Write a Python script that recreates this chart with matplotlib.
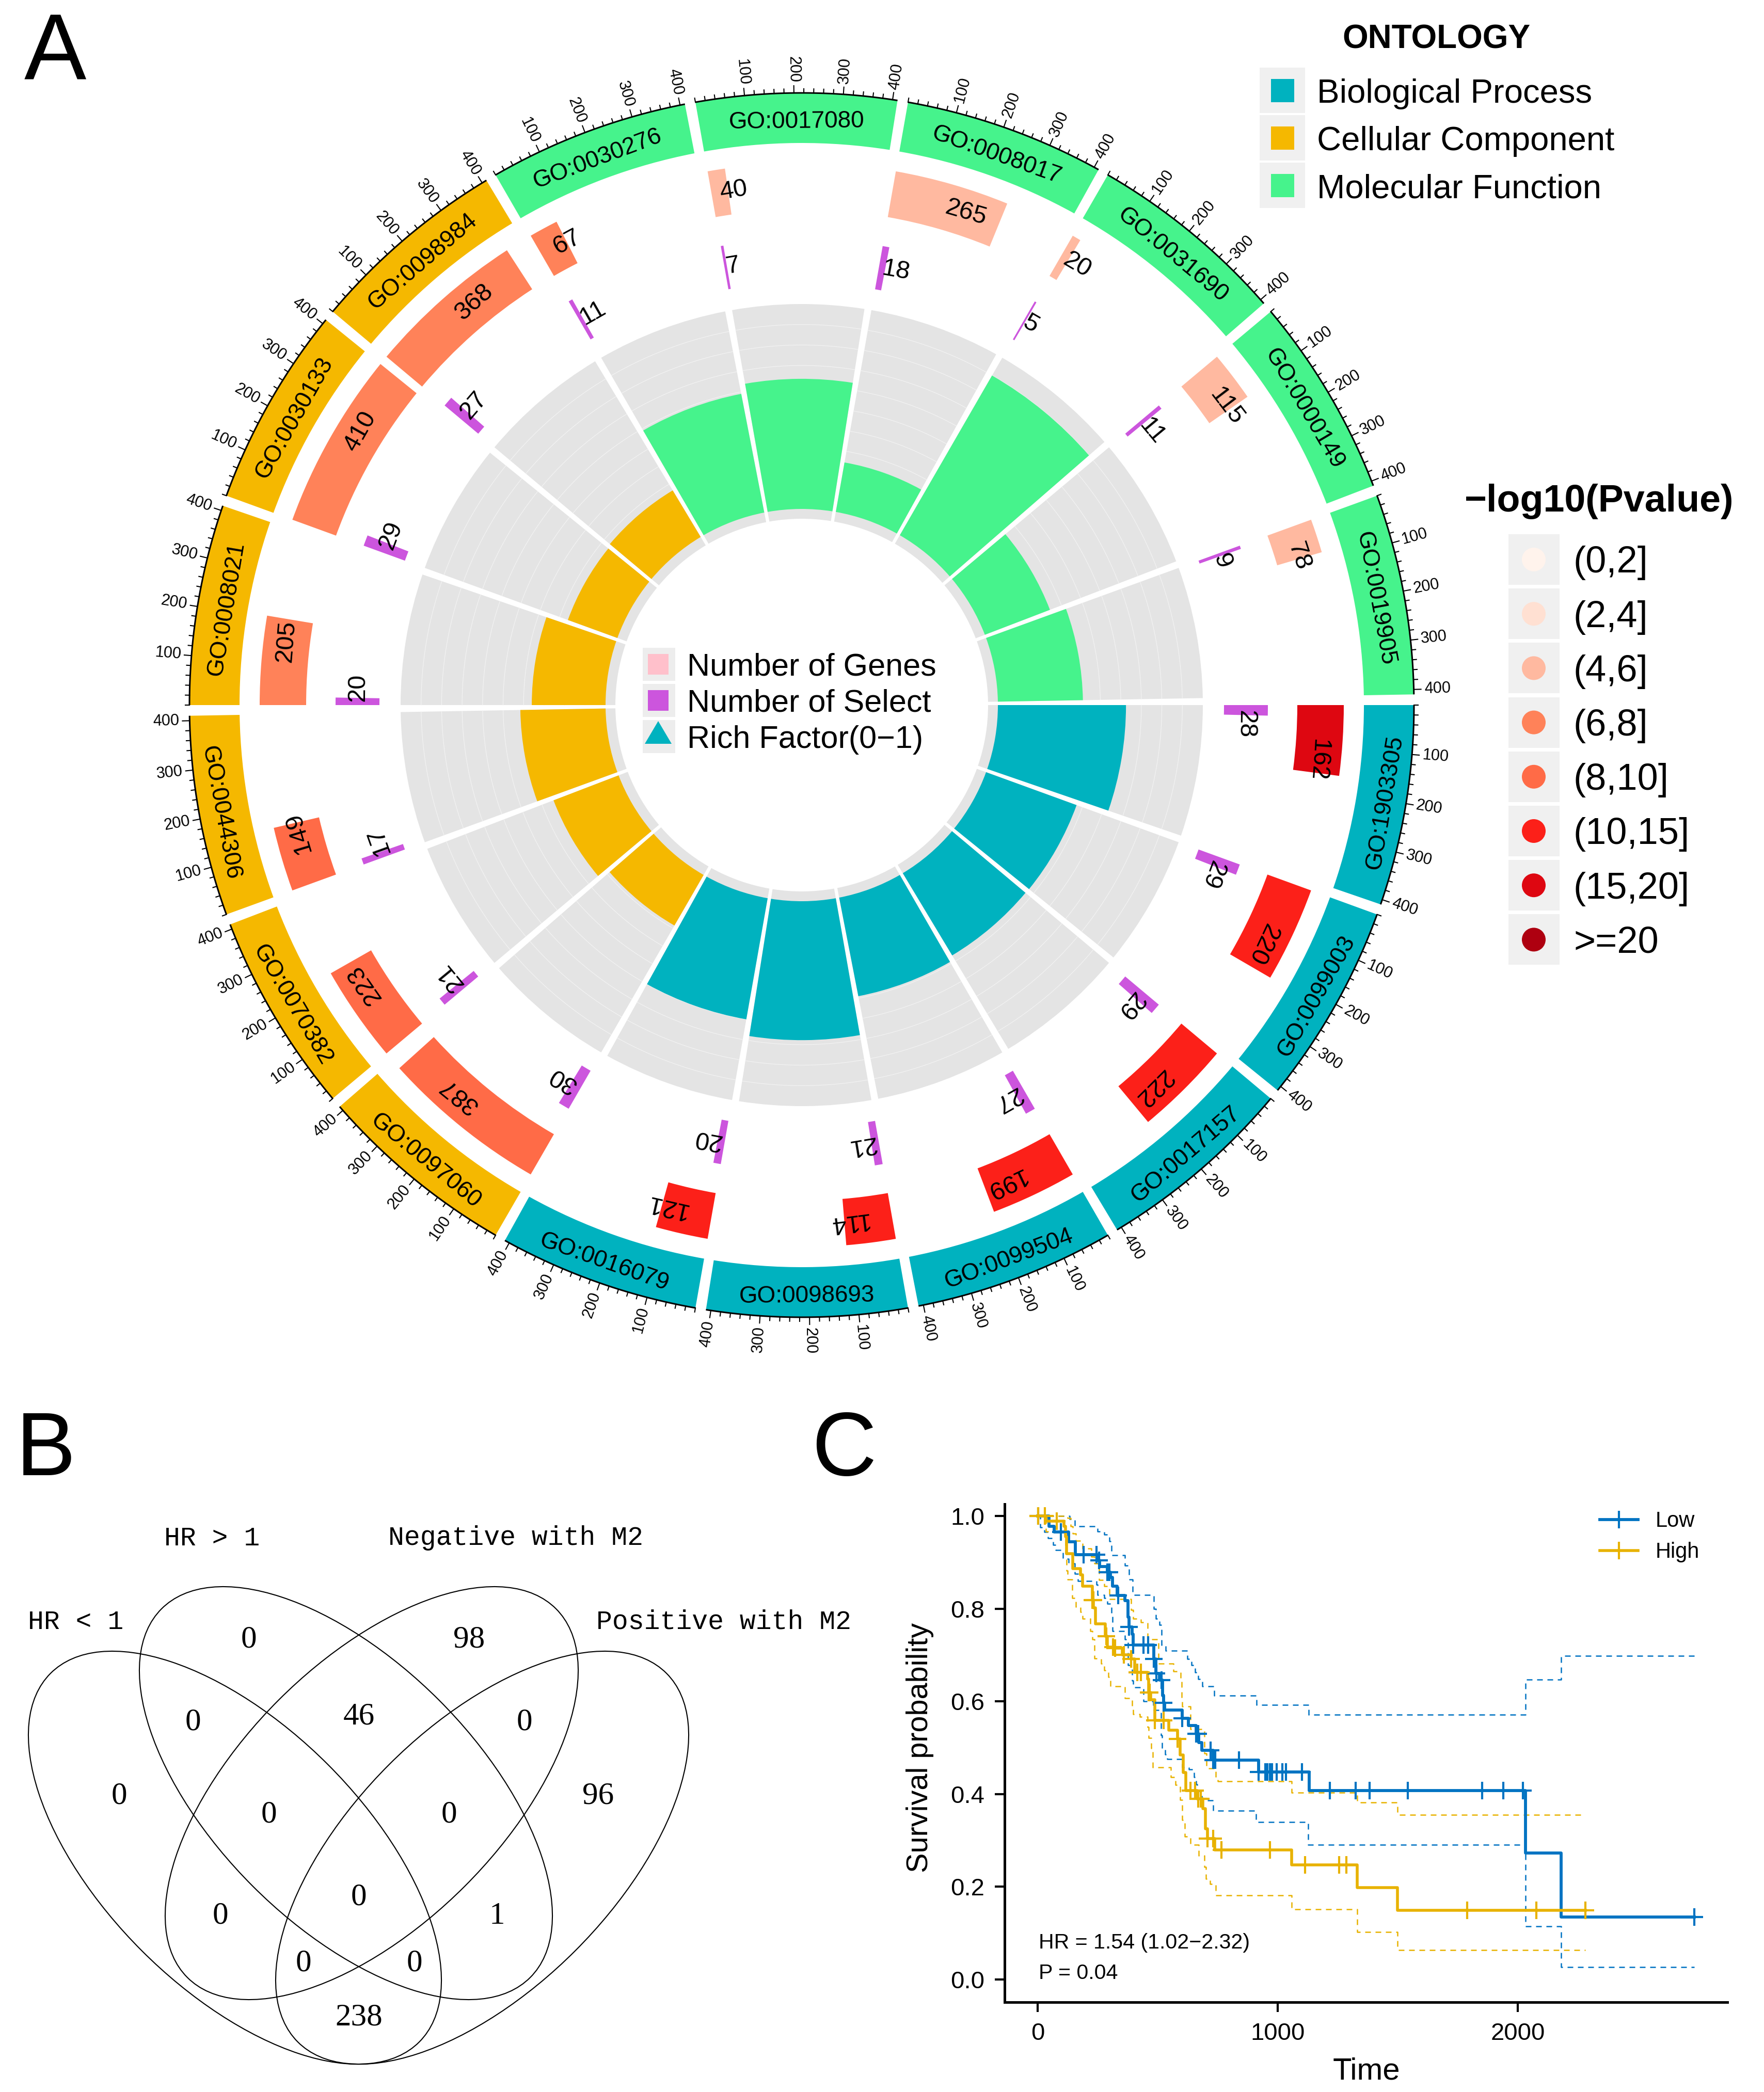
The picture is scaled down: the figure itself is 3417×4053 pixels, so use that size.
import numpy as np
import matplotlib
matplotlib.use("Agg")
import matplotlib.pyplot as plt
from matplotlib.patches import Rectangle, Ellipse, Circle, Polygon

plt.rcParams["font.family"] = ["Liberation Sans", "DejaVu Sans"]

W, H = 3417, 4053

# ---- panel A data, clockwise from 3 o'clock
go_ids = ["GO:1903305", "GO:0099003", "GO:0017157", "GO:0099504", "GO:0098693", "GO:0016079",
          "GO:0097060", "GO:0070382", "GO:0044306", "GO:0008021", "GO:0030133", "GO:0098984",
          "GO:0030276", "GO:0017080", "GO:0008017", "GO:0031690", "GO:0000149", "GO:0019905"]
ontology = ["BP"] * 6 + ["CC"] * 6 + ["MF"] * 6
n_genes = [162, 220, 222, 199, 114, 121, 387, 223, 149, 205, 410, 368, 67, 40, 265, 20, 115, 78]
n_select = [28, 29, 29, 27, 21, 20, 30, 21, 17, 20, 29, 27, 11, 7, 18, 5, 11, 9]
rich_factor = [0.625, 0.47, 0.468, 0.49, 0.678, 0.60, 0.285, 0.34, 0.416,
               0.36, 0.257, 0.265, 0.59, 0.635, 0.245, 0.90, 0.34, 0.415]
# index into pvalue_labels
p_class = [6, 5, 5, 5, 5, 5, 4, 4, 4, 3, 3, 3, 3, 2, 2, 2, 2, 2]

ontology_names = ["Biological Process", "Cellular Component", "Molecular Function"]
ontology_colors = {"BP": "#00B2BF", "CC": "#F5B800", "MF": "#46F38C"}
pvalue_labels = ["(0,2]", "(2,4]", "(4,6]", "(6,8]", "(8,10]", "(10,15]", "(15,20]", ">=20"]
pvalue_colors = ["#FFF3EC", "#FFE0D2", "#FFB9A0", "#FF8259", "#FF6B47", "#FC2019", "#DE0711", "#AE0010"]
center_labels = ["Number of Genes", "Number of Select", "Rich Factor(0\u22121)"]

# ---- panel B data
venn_counts = [0, 98, 0, 46, 0, 0, 0, 0, 96, 0, 0, 1, 0, 0, 238]
venn_xy = [(482, 3172), (909, 3172), (374, 3332), (695, 3321), (1016, 3332), (231, 3475), (521, 3511),
           (870, 3511), (1159, 3475), (427, 3707), (695, 3671), (963, 3707), (588, 3799), (803, 3799),
           (695, 3904)]

# ---- panel C data
low_t = [0, 47, 68, 130, 157, 249, 258, 290, 303, 311, 331, 364, 377, 381, 393, 397, 484, 492, 508, 521,
         525, 529, 603, 628, 660, 670, 684, 732, 920, 1131, 2033, 2181, 2736]
low_p = [1, .978, .965, .944, .917, .904, .891, .879, .867, .849, .828, .817, .782, .761, .745, .722, .691,
         .66, .646, .612, .597, .581, .563, .548, .530, .511, .494, .473, .448, .408, .273, .135, .135]
high_t = [0, 35, 109, 117, 121, 146, 179, 187, 228, 233, 241, 282, 290, 319, 352, 389, 405, 459, 463, 471,
          488, 546, 583, 593, 607, 617, 665, 689, 698, 708, 737, 1059, 1332, 1499, 2282]
high_p = [1, .989, .978, .956, .919, .886, .873, .849, .819, .802, .767, .741, .717, .715, .700, .691, .663,
          .648, .619, .604, .559, .538, .519, .484, .447, .408, .39, .369, .325, .304, .28, .2476, .1986,
          .149, .149]
low_up_t = [0, 134, 154, 249, 278, 298, 307, 364, 381, 395, 484, 492, 508, 517, 533, 623, 640, 656, 669, 685,
            735, 911, 1129, 2033, 2181, 2736]
low_up_p = [1, .993, .978, .967, .96, .945, .915, .893, .863, .83, .80, .778, .765, .722, .709, .691, .678,
            .663, .648, .632, .613, .592, .571, .647, .698, .698]
low_lo_t = [0, 10, 27, 43, 64, 76, 105, 130, 154, 167, 245, 249, 278, 290, 307, 311, 364, 377, 393, 397, 440,
            482, 514, 518, 531, 540, 603, 631, 651, 661, 665, 684, 732, 910, 1126, 2033, 2181, 2736]
low_lo_p = [1, .975, .965, .952, .938, .926, .908, .897, .875, .86, .852, .83, .823, .811, .789, .752, .734,
            .678, .645, .63, .60, .581, .527, .499, .486, .476, .458, .453, .437, .421, .407, .386, .364,
            .34, .291, .115, .027, .027]
high_up_t = [0, 125, 138, 146, 159, 187, 224, 237, 257, 278, 298, 389, 397, 430, 459, 504, 566, 595, 599, 603,
             636, 694, 703, 741, 750, 1059, 1332, 1499, 2282]
high_up_p = [1, .995, .978, .962, .946, .93, .912, .897, .862, .849, .821, .797, .778, .771, .734, .682, .665,
             .65, .607, .589, .54, .488, .455, .432, .428, .403, .382, .355, .355]
high_lo_t = [0, 35, 117, 121, 125, 144, 159, 179, 187, 220, 228, 237, 265, 278, 295, 303, 364, 393, 397, 426,
             459, 463, 473, 480, 555, 574, 593, 603, 612, 636, 670, 694, 700, 718, 741, 1059, 1332, 1499, 2282]
high_lo_p = [1, .967, .919, .882, .863, .823, .804, .793, .778, .752, .734, .693, .682, .667, .652, .632, .607,
             .589, .572, .567, .544, .521, .499, .458, .436, .42, .388, .344, .308, .291, .267, .243, .217,
             .206, .182, .152, .103, .0635, .0635]
low_censor = [2, 97, 191, 245, 257, 290, 298, 335, 381, 397, 441, 461, 484, 494, 516, 525, 603, 660, 669, 720,
              732, 740, 838, 920, 948, 958, 967, 977, 996, 1020, 1035, 1102, 1217, 1325, 1382, 1541, 1852,
              1939, 2021, 2736]
high_censor = [2, 31, 80, 228, 232, 286, 315, 323, 360, 389, 414, 430, 463, 467, 488, 524, 583, 636, 655, 668,
               679, 708, 732, 766, 967, 1113, 1256, 1286, 1790, 2078, 2282]

LOW_COLOR = "#0073C2"
HIGH_COLOR = "#E8B200"


def box(left, top, right, bottom):
    # pixel box -> figure fraction rectangle
    return [left / W, 1 - bottom / H, (right - left) / W, (bottom - top) / H]


def draw_circle(ax):
    r_outer, r_band = 1186, 1089
    r_gene = (960, 1050)
    r_sel = (818, 903)
    r_grey = (361, 777)
    r_bar = (380, 777)
    x_max = 410.0
    sweep = 19.0

    for i, go in enumerate(go_ids):
        start = 360 - 20 * i
        color = ontology_colors[ontology[i]]

        def ang(x):
            return np.radians(start - x / x_max * sweep)

        left = np.radians(start - sweep)
        width = np.radians(sweep)

        # outer band with GO id, lower half is flipped so it stays readable
        ax.bar(left, r_outer - r_band, width, bottom=r_band, align="edge", color=color, linewidth=0)
        mid = start - sweep / 2
        if mid > 180:
            ax.text(np.radians(mid), 1145, go, rotation=mid + 90 - 360, rotation_mode="anchor",
                    ha="center", va="center", fontsize=33)
        else:
            ax.text(np.radians(mid), 1130, go, rotation=mid - 90, rotation_mode="anchor",
                    ha="center", va="center", fontsize=33)

        # axis on the outside
        theta = np.linspace(ang(0), ang(x_max), 60)
        ax.plot(theta, np.full(60, r_outer), color="black", lw=2.2, solid_capstyle="butt")
        for x in range(0, 401, 20):
            tick = 14 if (x % 100 == 0 and x > 0) else 8
            ax.plot([ang(x), ang(x)], [r_outer, r_outer + tick], color="black", lw=1.5)
        for x in range(100, 401, 100):
            deg = start - x / x_max * sweep
            d = (deg + 180) % 360 - 180
            flip = abs(d) > 90
            ax.text(ang(x), r_outer + 20, str(x), rotation=d - 180 if flip and d > 0 else (d + 180 if flip else d),
                    rotation_mode="anchor", ha="right" if flip else "left", va="center", fontsize=22)

        # number of genes
        g = n_genes[i]
        ax.bar(ang(g), r_gene[1] - r_gene[0], ang(0) - ang(g), bottom=r_gene[0], align="edge",
               color=pvalue_colors[p_class[i]], linewidth=0)
        deg = start - g / 2 / x_max * sweep
        ax.text(np.radians(deg), sum(r_gene) / 2, str(g), rotation=deg - 90, rotation_mode="anchor",
                ha="left", va="center", fontsize=35)

        # number of select
        s = n_select[i]
        ax.bar(ang(s), r_sel[1] - r_sel[0], ang(0) - ang(s), bottom=r_sel[0], align="edge",
               color="#CC55DD", linewidth=0)
        deg = start - s / 2 / x_max * sweep
        ax.text(np.radians(deg), sum(r_sel) / 2, str(s), rotation=deg - 90, rotation_mode="anchor",
                ha="left", va="center", fontsize=35)

        # rich factor over grey background
        ax.bar(left, r_grey[1] - r_grey[0], width, bottom=r_grey[0], align="edge", color="#E4E4E4", linewidth=0)
        for k in range(1, 10):
            rr = r_bar[0] + k / 10 * (r_bar[1] - r_bar[0])
            ax.plot(np.linspace(left, left + width, 40), np.full(40, rr), color="#F4F4F4", lw=0.8)
        ax.bar(left, rich_factor[i] * (r_bar[1] - r_bar[0]), width, bottom=r_bar[0], align="edge",
               color=color, linewidth=0, zorder=3)


def draw_legends(ov):
    # panel letters
    ov.text(107, 155, "A", fontsize=130, ha="center", va="baseline")
    ov.text(89, 2858, "B", fontsize=125, ha="center", va="baseline")
    ov.text(1635, 2858, "C", fontsize=125, ha="center", va="baseline")

    # ontology legend
    ov.text(2782, 76, "ONTOLOGY", fontsize=46, fontweight="bold", ha="center", va="center")
    for k, key in enumerate(["BP", "CC", "MF"]):
        y = 175 + k * 92
        ov.add_patch(Rectangle((2440, y - 44), 88, 88, color="#F0F0F0", lw=0))
        ov.add_patch(Rectangle((2462, y - 22), 45, 45, color=ontology_colors[key], lw=0))
        ov.text(2551, y + 7, ontology_names[k], fontsize=47, ha="left", va="center")

    # p value legend
    ov.text(3098, 972, "\u2212log10(Pvalue)", fontsize=53, fontweight="bold", ha="center", va="center")
    for k, lab in enumerate(pvalue_labels):
        y = 1084 + k * 105.2
        ov.add_patch(Rectangle((2922, y - 49), 99, 98, color="#F0F0F0", lw=0))
        ov.add_patch(Circle((2971, y), 23, color=pvalue_colors[k], lw=0))
        ov.text(3048, y + 7, lab, fontsize=52, ha="left", va="center")

    # legend in the middle of the circle
    for k, lab in enumerate(center_labels):
        y = 1287 + k * 70
        ov.add_patch(Rectangle((1245, y - 32), 63, 64, color="#EDEDED", lw=0))
        if k < 2:
            ov.add_patch(Rectangle((1255, y - 20), 40, 40, color=["#FFC0CB", "#CC55DD"][k], lw=0))
        else:
            ov.add_patch(Polygon([(1275, y - 30), (1249, y + 14), (1301, y + 14)], color="#00B2BF", lw=0))
        ov.text(1331, y + 6, lab, fontsize=44, ha="left", va="center")


def draw_venn(ov):
    a, b = 505, 255
    for cx, cy, tilt in [(455, 3599, 45), (934, 3599, -45), (670, 3474, 45), (720, 3474, -45)]:
        ov.add_patch(Ellipse((cx, cy), 2 * a, 2 * b, angle=tilt, fill=False, edgecolor="black", lw=1.5))
    serif = ["Liberation Serif", "DejaVu Serif"]
    mono = ["Liberation Mono", "DejaVu Sans Mono"]
    for (x, y), c in zip(venn_xy, venn_counts):
        ov.text(x, y + 5, str(c), fontsize=44, family=serif, ha="center", va="center")
    ov.text(318, 2980, "HR > 1", fontsize=37, family=mono, ha="left", va="center")
    ov.text(752, 2980, "Negative with M2", fontsize=37, family=mono, ha="left", va="center")
    ov.text(54, 3142, "HR < 1", fontsize=37, family=mono, ha="left", va="center")
    ov.text(1155, 3142, "Positive with M2", fontsize=37, family=mono, ha="left", va="center")


def draw_km(ax):
    dash = (0, (4.4, 3.6))
    ax.step(low_up_t, low_up_p, where="post", color=LOW_COLOR, lw=1.8, ls=dash)
    ax.step(low_lo_t, low_lo_p, where="post", color=LOW_COLOR, lw=1.8, ls=dash)
    ax.step(high_up_t, high_up_p, where="post", color=HIGH_COLOR, lw=1.8, ls=dash)
    ax.step(high_lo_t, high_lo_p, where="post", color=HIGH_COLOR, lw=1.8, ls=dash)
    ax.step(low_t, low_p, where="post", color=LOW_COLOR, lw=4.2, label="Low")
    ax.step(high_t, high_p, where="post", color=HIGH_COLOR, lw=4.0, label="High")

    # censor marks sit on the curve
    for t, p, cens, col in [(low_t, low_p, low_censor, LOW_COLOR), (high_t, high_p, high_censor, HIGH_COLOR)]:
        idx = np.searchsorted(t, cens, side="right") - 1
        ax.plot(cens, np.array(p)[idx], ls="none", marker="+", ms=24, mew=3.0, color=col)

    ax.set_xlim(-137.6, 2873)
    ax.set_ylim(-0.049, 1.0256)
    ax.set_xticks([0, 1000, 2000])
    ax.set_yticks([0, 0.2, 0.4, 0.6, 0.8, 1.0])
    ax.tick_params(length=14, width=3, labelsize=34, pad=14)
    for side in ["top", "right"]:
        ax.spines[side].set_visible(False)
    for side in ["left", "bottom"]:
        ax.spines[side].set_linewidth(3.6)
    ax.set_xlabel("Time", fontsize=43)
    ax.set_ylabel("Survival probability", fontsize=41.5)
    ax.xaxis.set_label_coords((2647 - 1946) / 1400, -(4013 - 3879) / 965, ax.transAxes)
    ax.yaxis.set_label_coords((1782 - 1946) / 1400, (3879 - 3386) / 965, ax.transAxes)
    ax.xaxis.label.set_va("center")
    ax.yaxis.label.set_va("center")


fig = plt.figure(figsize=(W / 100, H / 100), dpi=100)

rm = 1340
polar = fig.add_axes(box(1553 - rm, 1366 - rm, 1553 + rm, 1366 + rm), projection="polar")
polar.set_ylim(0, rm)
polar.set_axis_off()
polar.patch.set_visible(False)
draw_circle(polar)

overlay = fig.add_axes([0, 0, 1, 1])
overlay.set_xlim(0, W)
overlay.set_ylim(H, 0)
overlay.set_axis_off()
overlay.patch.set_visible(False)
draw_legends(overlay)
draw_venn(overlay)

km = fig.add_axes(box(1946, 2914, 3346, 3879))
km.patch.set_visible(False)
draw_km(km)

# survival legend and annotation
for y, lab, col, lw in [(2944, "Low", LOW_COLOR, 4.2), (3004, "High", HIGH_COLOR, 4.0)]:
    overlay.plot([3099, 3173], [y, y], color=col, lw=lw)
    overlay.plot([3136], [y], marker="+", ms=24, mew=3.0, color=col)
    overlay.text(3207, y + 3, lab, fontsize=30, ha="left", va="center")
overlay.text(2012, 3764, "HR = 1.54 (1.02\u22122.32)", fontsize=29.6, ha="left", va="center")
overlay.text(2012, 3823, "P = 0.04", fontsize=29.6, ha="left", va="center")

fig.savefig("out.png", dpi=100)
